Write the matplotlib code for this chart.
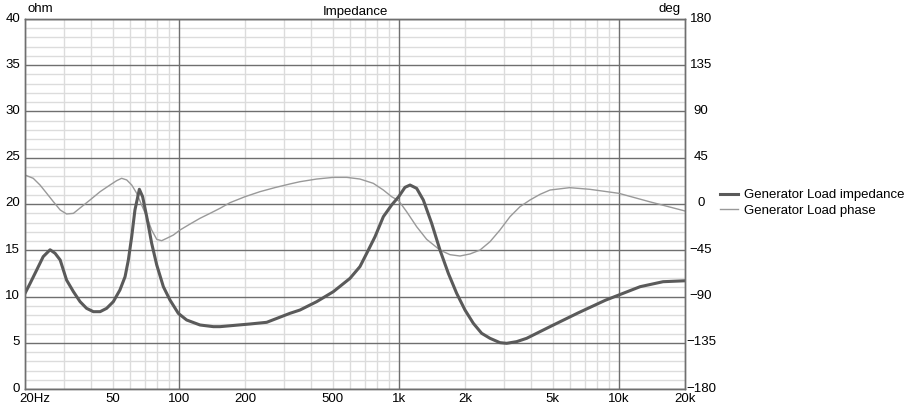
import numpy as np
import matplotlib
matplotlib.use('Agg')
import matplotlib.pyplot as plt
from matplotlib.ticker import FixedLocator, NullFormatter
from matplotlib.transforms import ScaledTranslation

plt.rcParams['font.family'] = ['Liberation Sans', 'DejaVu Sans']

# values
imp_freq = [20, 21.1, 22.6, 24.2, 26.0, 27.4, 28.9, 30.9, 33.2, 35.6, 38.1, 40.9, 43.9, 47.0,
            50.4, 54.0, 57.0, 59.0, 61.1, 63.2, 66.2, 68.5, 71.5, 75.3, 79.4, 85.1, 91.2,
            99.5, 108.6, 124.9, 143.6, 154, 211, 251, 320, 355.7, 423.4, 504, 600, 666, 715,
            780, 851, 928, 999, 1067, 1125, 1206, 1293, 1411, 1539, 1680, 1833, 2000, 2182,
            2381, 2598, 2884, 3094, 3434, 3814, 4234, 4870, 6500, 8700, 10000, 12500, 15900,
            20000]
imp_ohm = [10.34, 11.42, 12.86, 14.31, 15.05, 14.67, 13.95, 11.78, 10.52, 9.44, 8.72, 8.36, 8.36, 8.72,
           9.44, 10.70, 12.14, 13.95, 16.47, 19.35, 21.59, 20.79, 18.63, 15.75, 13.41, 11.06, 9.62,
           8.18, 7.46, 6.92, 6.74, 6.74, 7.03, 7.21, 8.18, 8.54, 9.44, 10.52, 11.96, 13.23, 14.67,
           16.47, 18.63, 19.89, 20.79, 21.8, 22.05, 21.69, 20.43, 17.91, 15.03, 12.5, 10.34, 8.54, 7.1,
           6.02, 5.48, 5.01, 4.94, 5.12, 5.48, 6.02, 6.74, 8.2, 9.6, 10.16, 11.06, 11.6,
           11.7]

ph_freq = [20, 21.8, 23.4, 25.1, 26.9, 28.9, 30.9, 33.2, 36.2, 39.5, 43.9, 48.7, 52.2, 55.0,
           58.0, 61.1, 64.4, 67.8, 71.5, 75.3, 79.4, 83.6, 88.1, 94.5, 101.3, 112.5, 124.9,
           138.7, 153.9, 171, 200, 234, 273, 320, 355.7, 423.4, 504, 580, 666, 766, 851, 928,
           999, 1086, 1206, 1339, 1539, 1709, 1898, 2108, 2340, 2598, 2884, 3204, 3557, 3950,
           4386, 4870, 5980, 7380, 10000, 13800, 20000]
ph_deg = [28.2, 25.0, 18.5, 10.4, 2.3, -5.8, -9.7, -9.1, -2.6, 3.9, 12.0, 18.5, 22.7, 25.0,
          23.4, 18.5, 10.4, -1.0, -12.3, -25.3, -34.4, -35.7, -33.4, -30.2, -25.3, -19.5, -13.9,
          -9.1, -4.2, 1.3, 7.1, 12.0, 15.9, 19.5, 21.7, 24.3, 25.9, 25.9, 24.3, 20.1, 13.6, 7.1,
          3.2, -7.5, -22.1, -34.4, -44.8, -49.3, -50.6, -48.6, -44.8, -36.7, -25.3, -12.3, -2.6, 3.9,
          9.4, 13.6, 15.9, 14.3, 10.4, 2.2, -6.8]

xtick_vals = [20, 50, 100, 200, 500, 1000, 2000, 5000, 10000, 20000]
xtick_labels = ['20Hz', '50', '100', '200', '500', '1k', '2k', '5k', '10k', '20k']
ohm_ticks = [0, 5, 10, 15, 20, 25, 30, 35, 40]
deg_ticks = [-180, -135, -90, -45, 0, 45, 90, 135, 180]

fs = 9.5
major_c = '#6f6f6f'
minor_c = '#dcdcdc'

fig = plt.figure(figsize=(9.19, 4.05), dpi=100)
# bottom axes: phase (deg, right side) and the whole grid
ax = fig.add_axes([25 / 919, 16 / 405, 660 / 919, 370 / 405])
ax.set_xscale('log')
ax.set_xlim(20, 20000)
ax.set_ylim(-180, 180)

# top axes: impedance (ohm, left side)
ax2 = ax.twinx()
ax2.set_ylim(0, 40)
ax.yaxis.tick_right()
ax2.yaxis.tick_left()

minors = [m * 10 ** k for k in range(1, 5) for m in range(2, 10) if 20 <= m * 10 ** k <= 20000]
ax.xaxis.remove_overlapping_locs = False
ax.xaxis.set_major_locator(FixedLocator(xtick_vals))
ax.xaxis.set_minor_locator(FixedLocator(minors))
ax.set_xticklabels(xtick_labels)
ax.xaxis.set_minor_formatter(NullFormatter())
ax.yaxis.set_major_locator(FixedLocator(deg_ticks))
ax.yaxis.set_minor_locator(FixedLocator(list(range(-180, 181, 9))))
ax.set_axisbelow(True)
ax.grid(axis='y', which='major', color=major_c, lw=1.0)
ax.grid(axis='both', which='minor', color=minor_c, lw=1.0)
for v in [100, 1000, 10000]:
    ax.axvline(v, color=major_c, lw=1.0, zorder=0.6)

ax2.set_yticks(ohm_ticks)
ax.tick_params(axis='x', which='both', length=0, pad=3, labelsize=fs)
ax.tick_params(axis='y', which='both', length=0, pad=11.5, labelsize=fs)
ax2.tick_params(axis='y', length=0, pad=3.5, labelsize=fs)

l2, = ax.plot(ph_freq, ph_deg, color='#999999', lw=1.0, label='Generator Load phase')
l1, = ax2.plot(imp_freq, imp_ohm, color='#5a5a5a', lw=2.2, label='Generator Load impedance')

for a in (ax, ax2):
    for s in a.spines.values():
        s.set_color(major_c)
        s.set_linewidth(1.0)

ax2.set_title('Impedance', fontsize=fs, pad=3)
fig.text(27 / 919, 1 - 15 / 405, 'ohm', fontsize=fs, ha='left', va='bottom')
fig.text(681 / 919, 1 - 15 / 405, 'deg', fontsize=fs, ha='right', va='bottom')

ax2.legend([l1, l2], [l1.get_label(), l2.get_label()], loc='upper left',
           bbox_to_anchor=(720 / 919, 1 - 189 / 405), bbox_transform=fig.transFigure,
           frameon=False, fontsize=fs, handlelength=1.4, handletextpad=0.4,
           borderpad=0, borderaxespad=0, labelspacing=0.25)

# y labels sit a touch above their grid lines, right ones are centred
up = ScaledTranslation(0, 2 / 100, fig.dpi_scale_trans)
for t in ax.get_yticklabels():
    t.set_horizontalalignment('center')
    t.set_transform(t.get_transform() + up)
for t in ax2.get_yticklabels():
    t.set_transform(t.get_transform() + up)

# "20Hz" sits with its number centred on the tick
lab = ax.get_xticklabels()[0]
lab.set_horizontalalignment('left')
lab.set_transform(lab.get_transform() + ScaledTranslation(-6 / 100, 0, fig.dpi_scale_trans))

fig.savefig('out.png', dpi=100)
